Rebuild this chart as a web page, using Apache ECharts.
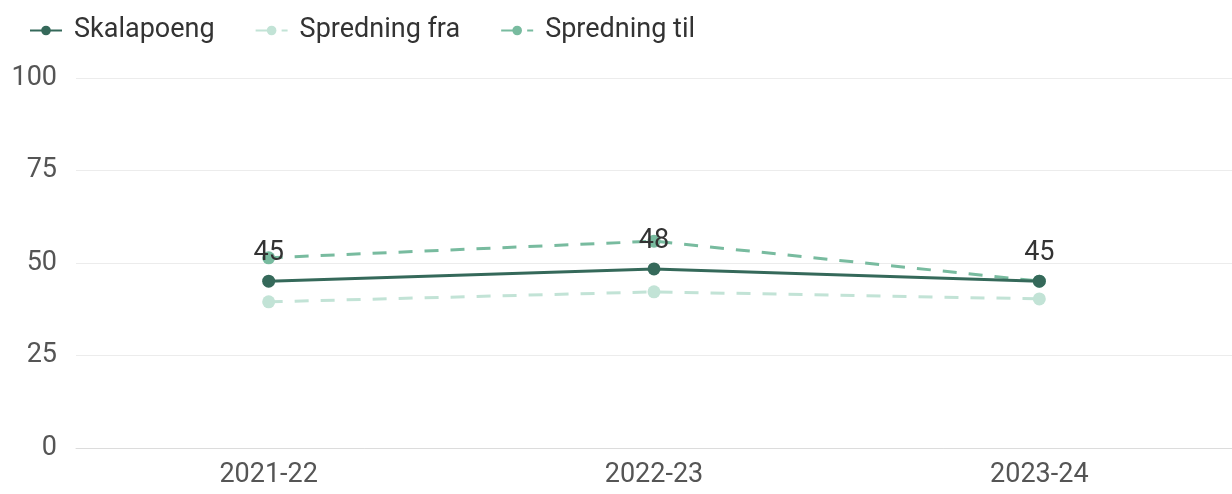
<!DOCTYPE html>
<html>
<head>
<meta charset="utf-8">
<script src="https://cdn.jsdelivr.net/npm/echarts@6/dist/echarts.min.js"></script>
<style>
  html, body { margin: 0; padding: 0; background: #fff; }
  #chart { width: 1232px; height: 494px; }
</style>
</head>
<body>
<div id="chart"></div>
<script>
  var years = ['2021-22', '2022-23', '2023-24'];
  var skalapoeng = [45.1, 48.4, 45.1];
  var spredningFra = [39.5, 42.2, 40.3];
  var spredningTil = [51.4, 55.9, 45.1];
  var yTicks = [0, 25, 50, 75, 100];

  var cDark = '#35695a', cLight = '#c2e3d6', cMid = '#78bb9f';

  var myChart = echarts.init(document.getElementById('chart'));

  var option = {
    animation: false,
    textStyle: { fontFamily: 'Roboto' },
    legend: {
      left: 24,
      top: 12,
      itemWidth: 32,
      itemHeight: 12,
      itemGap: 40,
      textStyle: { fontSize: 27, color: '#333', padding: [0, 0, 0, 7] },
      data: ['Skalapoeng', 'Spredning fra', 'Spredning til']
    },
    grid: {
      left: 76,
      top: 78,
      width: 1164,
      height: 370,
      containLabel: false
    },
    xAxis: {
      type: 'category',
      data: years,
      boundaryGap: true,
      axisLine: { show: true, lineStyle: { color: '#dcdcdc' } },
      axisTick: { show: false },
      axisLabel: { fontSize: 27, color: '#555', margin: 14 }
    },
    yAxis: {
      type: 'value',
      min: yTicks[0],
      max: yTicks[yTicks.length - 1],
      interval: 25,
      axisLine: { show: false },
      axisTick: { show: false },
      axisLabel: { fontSize: 27, color: '#555', margin: 19 },
      splitLine: { lineStyle: { color: '#ececec' } }
    },
    series: [
      {
        name: 'Spredning fra',
        type: 'line',
        data: spredningFra,
        symbol: 'circle',
        symbolSize: 13,
        itemStyle: { color: cLight },
        lineStyle: { color: cLight, width: 3, type: [14, 12] },
        z: 1
      },
      {
        name: 'Spredning til',
        type: 'line',
        data: spredningTil,
        symbol: 'circle',
        symbolSize: 13,
        itemStyle: { color: cMid },
        lineStyle: { color: cMid, width: 3, type: [14, 12] },
        z: 2
      },
      {
        name: 'Skalapoeng',
        type: 'line',
        data: skalapoeng,
        symbol: 'circle',
        symbolSize: 13,
        itemStyle: { color: cDark },
        lineStyle: { color: cDark, width: 3 },
        label: {
          show: true,
          position: 'top',
          distance: 8,
          fontSize: 27,
          color: '#333',
          formatter: function (p) { return Math.round(p.value); }
        },
        z: 3
      }
    ]
  };
  myChart.setOption(option);
</script>
</body>
</html>
